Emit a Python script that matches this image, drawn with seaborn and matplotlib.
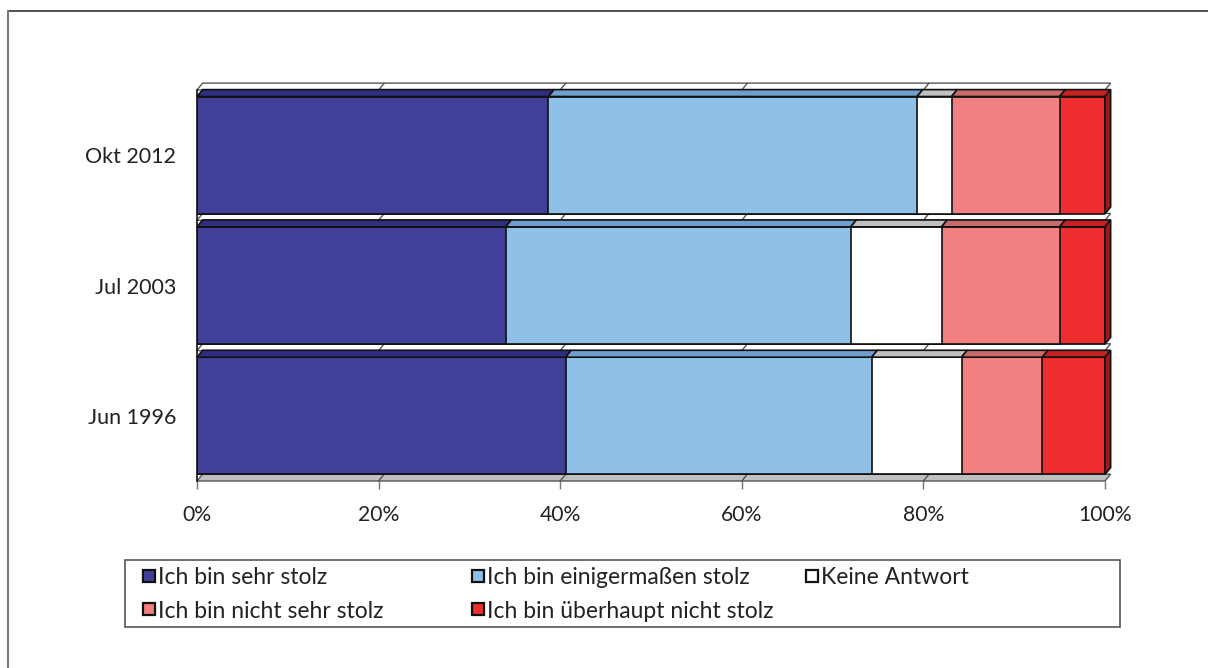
import numpy as np
import pandas as pd
import matplotlib
matplotlib.use("Agg")
import matplotlib.pyplot as plt
from matplotlib.patches import Polygon, Rectangle
from matplotlib.lines import Line2D
import seaborn as sns

# Survey data (percent of respondents)
categories = ["Okt 2012", "Jul 2003", "Jun 1996"]
series_names = [
    "Ich bin sehr stolz",
    "Ich bin einigermaßen stolz",
    "Keine Antwort",
    "Ich bin nicht sehr stolz",
    "Ich bin überhaupt nicht stolz",
]
sehr_stolz = [38.7, 34.0, 40.6]
einigermassen_stolz = [40.6, 38.0, 33.7]
keine_antwort = [3.8, 10.0, 9.9]
nicht_sehr_stolz = [11.9, 13.0, 8.9]
ueberhaupt_nicht_stolz = [5.0, 5.0, 6.9]
x_ticks = [0, 20, 40, 60, 80, 100]
x_tick_labels = ["0%", "20%", "40%", "60%", "80%", "100%"]

front_colors = ["#404099", "#8fc1e8", "#ffffff", "#f28080", "#ee2e2e"]
top_colors = ["#2f2f80", "#6e9fcf", "#c0c0c0", "#c86a6a", "#c42222"]
side_color = "#a01818"

sns.set_theme(style="white")
plt.rcParams["font.family"] = ["Lato", "DejaVu Sans"]

W, H = 1208, 668
values = np.array([sehr_stolz, einigermassen_stolz, keine_antwort,
                   nicht_sehr_stolz, ueberhaupt_nicht_stolz])
cum = np.cumsum(values, axis=0)
starts = cum - values

fig = plt.figure(figsize=(W / 100, H / 100), dpi=100)
ax = fig.add_axes([197 / W, 1 - 481 / H, 908 / W, 391 / H])

BAR_H = 0.9
DX = 0.62      # depth offset along x (percent units)
DY = 0.053     # depth offset along y (category units)
EDGE = "#111111"
LW = 1.2

# depth dividers between the category bands and the floor
for b in [-0.5, 0.5, 1.5, 2.5]:
    fill = "#c0c0c0" if b == 2.5 else "#ffffff"
    poly = Polygon([(0, b), (100, b), (100 + DX, b - DY), (DX, b - DY)],
                   closed=True, facecolor=fill, edgecolor="#555555",
                   linewidth=1.0, zorder=1, clip_on=False)
    ax.add_patch(poly)
    for t in x_ticks[1:-1]:
        ax.add_line(Line2D([t, t + DX], [b, b - DY], color="#555555",
                           linewidth=1.0, zorder=1.1, clip_on=False))

# stacked front faces: draw cumulative totals from the widest down
df = pd.DataFrame({"Zeitpunkt": categories})
for j in range(len(series_names) - 1, -1, -1):
    df["wert"] = cum[j]
    sns.barplot(data=df, x="wert", y="Zeitpunkt", orient="h", ax=ax,
                color=front_colors[j], saturation=1, width=BAR_H,
                edgecolor=EDGE, linewidth=LW, zorder=2)

# top faces and right side face of each bar
for i in range(len(categories)):
    y_top = i - BAR_H / 2
    y_bot = i + BAR_H / 2
    for j in range(len(series_names)):
        x0, x1 = starts[j, i], cum[j, i]
        top = Polygon([(x0, y_top), (x1, y_top), (x1 + DX, y_top - DY),
                       (x0 + DX, y_top - DY)], closed=True,
                      facecolor=top_colors[j], edgecolor=EDGE,
                      linewidth=LW, zorder=3, clip_on=False)
        ax.add_patch(top)
    xe = cum[-1, i]
    side = Polygon([(xe, y_top), (xe + DX, y_top - DY), (xe + DX, y_bot - DY),
                    (xe, y_bot)], closed=True, facecolor=side_color,
                   edgecolor=EDGE, linewidth=LW, zorder=3, clip_on=False)
    ax.add_patch(side)

ax.set_xlim(0, 100)
ax.set_ylim(2.5, -0.5)
ax.set_xlabel("")
ax.set_ylabel("")
ax.set_xticks(x_ticks)
ax.set_xticklabels(x_tick_labels, fontsize=15.2, color="#222222")
ax.set_yticks(range(len(categories)))
ax.set_yticklabels(categories, fontsize=15.5, color="#222222")
ax.set_yticks([-0.5, 0.5, 1.5, 2.5], minor=True)
ax.tick_params(axis="y", which="major", length=0, pad=15)
ax.tick_params(axis="y", which="minor", length=5, color="#777777", width=1)
ax.tick_params(axis="x", which="major", length=6, color="#777777", width=1,
               pad=11, bottom=True)
for s in ["top", "right", "bottom"]:
    ax.spines[s].set_visible(False)
ax.spines["left"].set_color(EDGE)
ax.spines["left"].set_linewidth(LW)
ax.spines["left"].set_zorder(4)
ax.set_facecolor("none")
ax.grid(False)

# legend box below the plot, laid out in three columns
fig.add_artist(Rectangle((125 / W, 1 - 627 / H), 995 / W, 67 / H,
                         transform=fig.transFigure, facecolor="white",
                         edgecolor="#555555", linewidth=1.2))
legend_slots = {0: (143, 576), 1: (472, 576), 2: (806, 576),
                3: (143, 609), 4: (472, 609)}
SQ = 12
for j, (px, py) in legend_slots.items():
    fig.add_artist(Rectangle((px / W, 1 - (py + SQ / 2) / H), SQ / W, SQ / H,
                             transform=fig.transFigure,
                             facecolor=front_colors[j], edgecolor="#111111",
                             linewidth=1.6))
    fig.text((px + SQ + 3) / W, 1 - py / H, series_names[j], fontsize=16.5,
             color="#222222", ha="left", va="center_baseline")

# outer frame lines (top and left)
fig.add_artist(Line2D([8 / W, 1], [1 - 11 / H, 1 - 11 / H],
                      transform=fig.transFigure, color="#333333", linewidth=1.2))
fig.add_artist(Line2D([8 / W, 8 / W], [0, 1 - 11 / H],
                      transform=fig.transFigure, color="#777777", linewidth=1.5))

fig.savefig("out.png", dpi=100)
